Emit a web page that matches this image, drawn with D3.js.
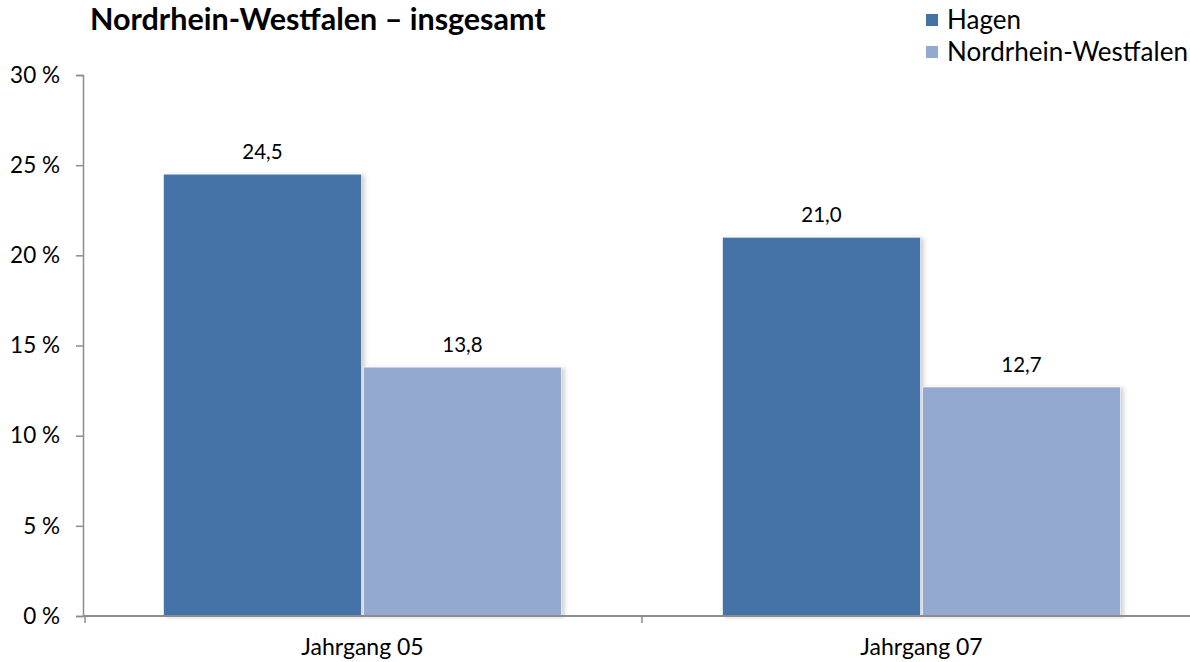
<!DOCTYPE html>
<html>
<head>
<meta charset="utf-8">
<script src="https://cdn.jsdelivr.net/npm/d3@7"></script>
<style>
  body { margin: 0; background: #fff; }
  svg { display: block; font-family: Lato, "Open Sans", sans-serif; }
</style>
</head>
<body>
<svg id="chart" width="1190" height="662"></svg>
<script>
let categories = ["Jahrgang 05", "Jahrgang 07"];
let seriesNames = ["Hagen", "Nordrhein-Westfalen"];
let hagenValues = [24.5, 21.0];
let nrwValues = [13.8, 12.7];
let yTicks = [0, 5, 10, 15, 20, 25, 30];
let colors = ["#4573A7", "#94A9D0"];

let svg = d3.select("#chart");
let margin = {top: 75, left: 83, bottom: 46};
let plotBottom = 616;

let de = d3.formatLocale({decimal: ",", thousands: ".", grouping: [3], currency: ["", " €"]});
let fmt = de.format(".1f");

let x = d3.scaleBand()
  .domain(categories)
  .range([margin.left, margin.left + 2 * 559]);

let y = d3.scaleLinear()
  .domain([0, 30])
  .range([plotBottom, margin.top]);

let barW = 198, barGap = 2;

// shadow
let defs = svg.append("defs");
let f = defs.append("filter").attr("id", "shadow")
  .attr("x", "-10%").attr("y", "-10%").attr("width", "130%").attr("height", "130%");
f.append("feDropShadow").attr("dx", 3).attr("dy", 1).attr("stdDeviation", 2)
  .attr("flood-color", "#000").attr("flood-opacity", 0.18);

// y axis
let yAxis = svg.append("g")
  .attr("transform", `translate(${margin.left},0)`)
  .call(d3.axisLeft(y).tickValues(yTicks).tickSize(7).tickFormat(d => d + " %"));
yAxis.select(".domain").attr("stroke", "#8c8c8c").attr("stroke-width", 1.5);
yAxis.selectAll(".tick line").attr("stroke", "#8c8c8c").attr("stroke-width", 1.5);
yAxis.selectAll(".tick text")
  .attr("x", -23)
  .attr("font-size", 22.5)
  .attr("fill", "#000")
  .attr("font-family", "Lato, sans-serif");

// bars
let data = categories.map((c, i) => ({cat: c, vals: [hagenValues[i], nrwValues[i]]}));
let groups = svg.append("g").selectAll("g")
  .data(data)
  .join("g")
  .attr("transform", d => `translate(${x(d.cat) + x.bandwidth() / 2},0)`);

groups.selectAll("rect")
  .data(d => d.vals.map((v, j) => ({v, j})))
  .join("rect")
  .attr("x", d => d.j === 0 ? -barW - barGap / 2 : barGap / 2)
  .attr("width", barW)
  .attr("y", d => y(d.v))
  .attr("height", d => plotBottom - y(d.v))
  .attr("fill", d => colors[d.j])
  .attr("stroke", "#ffffff")
  .attr("stroke-opacity", 0.6)
  .attr("stroke-width", 1)
  .attr("filter", "url(#shadow)");

groups.selectAll("text.val")
  .data(d => d.vals.map((v, j) => ({v, j})))
  .join("text")
  .attr("class", "val")
  .attr("x", d => (d.j === 0 ? -barW - barGap / 2 : barGap / 2) + barW / 2)
  .attr("y", d => y(d.v) - 15)
  .attr("text-anchor", "middle")
  .attr("font-size", 20.5)
  .text(d => fmt(d.v));

// x axis
let xAxis = svg.append("g")
  .attr("transform", `translate(0,${plotBottom})`);
xAxis.append("line")
  .attr("x1", margin.left).attr("x2", 1190)
  .attr("stroke", "#8c8c8c").attr("stroke-width", 2);
xAxis.selectAll("line.tk")
  .data([categories[0], categories[1]])
  .join("line")
  .attr("class", "tk")
  .attr("x1", d => x(d) + (d === categories[0] ? 2 : 0))
  .attr("x2", d => x(d) + (d === categories[0] ? 2 : 0))
  .attr("y1", 0).attr("y2", 7)
  .attr("stroke", "#8c8c8c").attr("stroke-width", 1.5);
xAxis.selectAll("text")
  .data(categories)
  .join("text")
  .attr("x", d => x(d) + x.bandwidth() / 2)
  .attr("y", 39)
  .attr("text-anchor", "middle")
  .attr("font-size", 23)
  .text(d => d);

// title
svg.append("text")
  .attr("x", 90).attr("y", 30)
  .attr("font-size", 30.5)
  .attr("font-weight", "bold")
  .text("Nordrhein-Westfalen \u2013 insgesamt");

// legend
let legend = svg.append("g").selectAll("g")
  .data(seriesNames)
  .join("g")
  .attr("transform", (d, i) => `translate(926,${20 + i * 32})`);
legend.append("rect")
  .attr("x", 0).attr("y", -6).attr("width", 12).attr("height", 12)
  .attr("fill", (d, i) => colors[i]);
legend.append("text")
  .attr("x", 21).attr("y", 9)
  .attr("font-size", 26)
  .text(d => d);
</script>
</body>
</html>
